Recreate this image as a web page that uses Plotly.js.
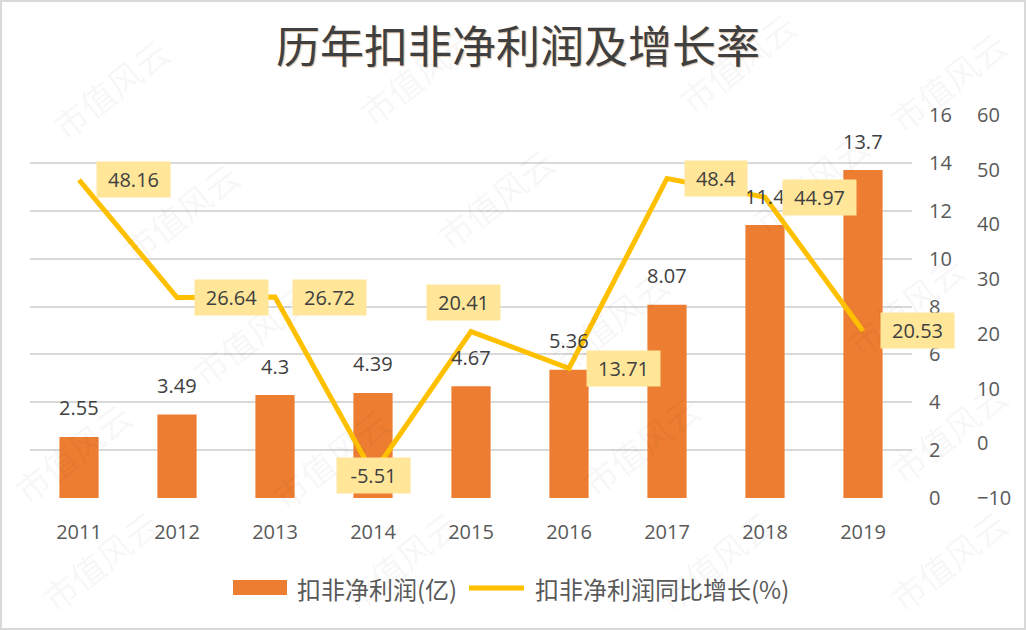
<!DOCTYPE html>
<html>
<head>
<meta charset="utf-8">
<script src="https://cdn.plot.ly/plotly-3.0.1.min.js"></script>
<style>
  html, body { margin: 0; padding: 0; background: #fff; }
  #wrap { position: relative; width: 1026px; height: 630px; }
  #chart { width: 1026px; height: 630px; }
  #frame { position: absolute; left: 0; top: 0; width: 1026px; height: 630px; box-sizing: border-box; border: 2px solid #d9d9d9; pointer-events: none; }
</style>
</head>
<body>
<div id="wrap"><div id="chart"></div><div id="frame"></div></div>
<script>
// ---- data ----
const years = ['2011', '2012', '2013', '2014', '2015', '2016', '2017', '2018', '2019'];
const profit = [2.55, 3.49, 4.3, 4.39, 4.67, 5.36, 8.07, 11.4, 13.7];          // 扣非净利润(亿)
const growth = [48.16, 26.64, 26.72, -5.51, 20.41, 13.71, 48.4, 44.97, 20.53]; // 同比增长(%)
const barName = '扣非净利润(亿)';
const lineName = '扣非净利润同比增长(%)';
const titleText = '历年扣非净利润及增长率';
const watermarkText = '市值风云';

// ---- styling / placement (not data) ----
const W = 1026, H = 630, ML = 30, MR = 20, MT = 115, MB = 132;
const PW = W - ML - MR, PH = H - MT - MB;
const px = v => (v - ML) / PW;          // pixel x -> paper x
const py = v => (H - MB - v) / PH;      // pixel y -> paper y
const xEnd = px(912);
const barColor = '#ED7D31', lineColor = '#FFC000';
const labelPlace = ['right', 'right', 'right', 'center', 'above', 'right', 'right', 'right', 'right'];
const wmPixels = [
  [110, 88], [418, 75], [737, 62], [948, 82],
  [180, 212], [495, 198], [810, 182],
  [250, 335], [610, 320], [905, 305],
  [72, 452], [330, 458], [640, 445], [948, 432],
  [100, 560], [400, 560], [715, 560], [948, 560]
];

const txtFont = { family: 'Open Sans, Noto Sans CJK SC, sans-serif', size: 20, color: '#404040' };
const axFont = { family: 'Open Sans, Noto Sans CJK SC, sans-serif', size: 20, color: '#595959' };
const legFont = { family: 'Noto Sans CJK SC, Open Sans, sans-serif', size: 24, color: '#595959' };

const annotations = [];
const shapes = [];
// watermarks
wmPixels.forEach(p => {
  annotations.push({
    xref: 'paper', yref: 'paper', x: px(p[0]), y: py(p[1]),
    text: watermarkText, showarrow: false, textangle: -38,
    font: { family: 'Noto Sans CJK SC, sans-serif', size: 34, color: 'rgba(0,0,0,0.05)' },
    xanchor: 'center', yanchor: 'middle'
  });
});
// bar value labels (x as category index)
years.forEach((y, i) => {
  annotations.push({
    x: i, y: profit[i], xref: 'x', yref: 'y',
    text: String(profit[i]), showarrow: false,
    yanchor: 'middle', yshift: 29, font: txtFont
  });
});
// line value labels
years.forEach((y, i) => {
  const t = String(growth[i]);
  const a = {
    x: i, y: growth[i], xref: 'x', yref: 'y2',
    text: t, showarrow: false, font: txtFont,
    bgcolor: '#FFE699', borderpad: 5, width: t.length * 11 + 8, height: 25,
    yanchor: 'middle'
  };
  if (labelPlace[i] === 'right') { a.xanchor = 'left'; a.xshift = 17; }
  else if (labelPlace[i] === 'center') { a.xanchor = 'center'; a.yshift = -2; }
  else { a.xanchor = 'center'; a.xshift = -8; a.yshift = 29; }
  annotations.push(a);
});
// custom legend (larger swatches like the reference)
const legY = py(588);
shapes.push({ type: 'rect', xref: 'paper', yref: 'paper', x0: px(233), x1: px(287), y0: py(595), y1: py(580),
  fillcolor: barColor, line: { width: 0 } });
shapes.push({ type: 'line', xref: 'paper', yref: 'paper', x0: px(469), x1: px(524), y0: legY, y1: legY,
  line: { color: lineColor, width: 5 } });
annotations.push({ xref: 'paper', yref: 'paper', x: px(295), y: legY, xanchor: 'left', yanchor: 'middle',
  text: barName, showarrow: false, font: legFont });
annotations.push({ xref: 'paper', yref: 'paper', x: px(533), y: legY, xanchor: 'left', yanchor: 'middle',
  text: lineName, showarrow: false, font: legFont });

const traces = [
  {
    type: 'bar', x: years, y: profit, name: barName,
    marker: { color: barColor }, yaxis: 'y'
  },
  {
    type: 'scatter', mode: 'lines', x: years, y: growth, name: lineName,
    line: { color: lineColor, width: 5 }, yaxis: 'y2'
  }
];

const layout = {
  width: W, height: H,
  margin: { l: ML, r: MR, t: MT, b: MB },
  paper_bgcolor: '#ffffff', plot_bgcolor: '#ffffff',
  title: {
    text: titleText, x: 0.5, xref: 'paper', xanchor: 'center',
    y: 1 - 48 / H, yanchor: 'middle',
    font: { family: 'Noto Sans CJK SC, sans-serif', size: 44, color: '#404040',
            shadow: '1px 1px 1px rgba(170,120,70,0.45)' }
  },
  bargap: 0.6,
  showlegend: false,
  xaxis: {
    type: 'category', domain: [0, xEnd], range: [-0.5, years.length - 0.5], autorange: false,
    showgrid: false, zeroline: false, showline: false, ticks: '',
    tickfont: axFont, ticklabelstandoff: 20
  },
  yaxis: {
    side: 'right', anchor: 'x', range: [0, 16], autorange: false, dtick: 2, tick0: 0,
    showgrid: true, gridcolor: '#d9d9d9', gridwidth: 2,
    zeroline: false, showline: false, ticks: '',
    tickfont: axFont, ticklabelstandoff: 16
  },
  yaxis2: {
    overlaying: 'y', side: 'right', anchor: 'free', position: px(972),
    range: [-10, 60], autorange: false, dtick: 10, tick0: 0,
    showgrid: false, zeroline: false, showline: false, ticks: '',
    tickfont: axFont, ticklabelstandoff: 4
  },
  shapes: shapes,
  annotations: annotations
};

Plotly.newPlot('chart', traces, layout, { displayModeBar: false, staticPlot: true });
</script>
</body>
</html>
